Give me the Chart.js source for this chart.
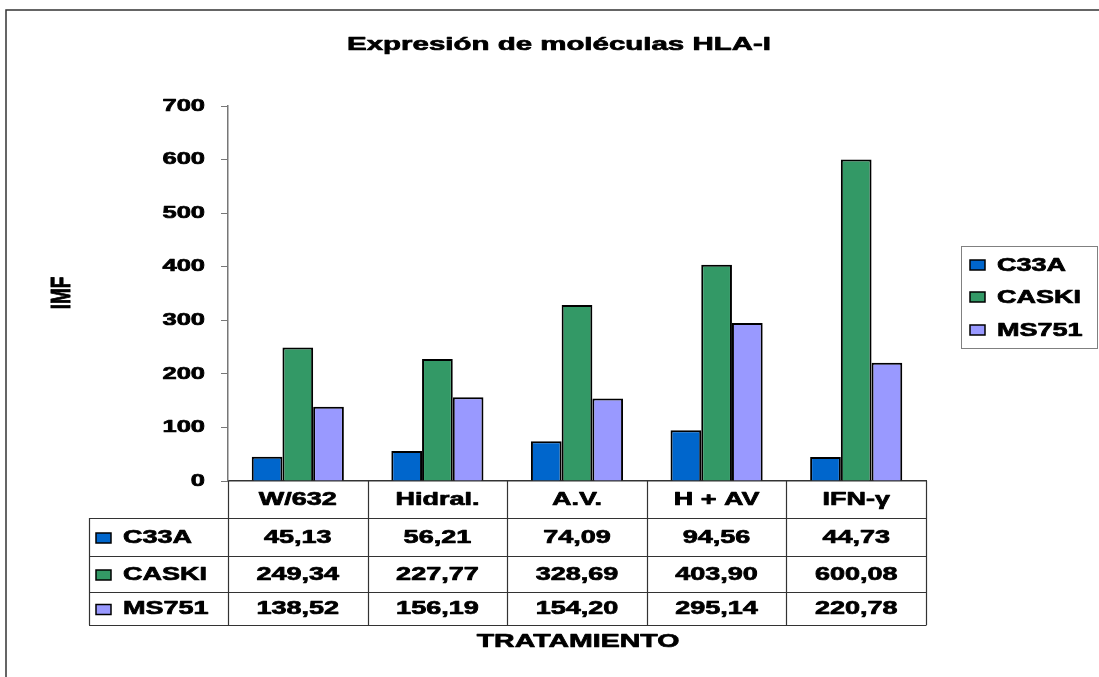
<!DOCTYPE html>
<html>
<head>
<meta charset="utf-8">
<title>Expresión de moléculas HLA-I</title>
<style>
  html, body { margin: 0; padding: 0; background: #ffffff; }
  #wrap { width: 1099px; height: 677px; position: relative; }
  canvas { display: block; }
</style>
<script src="https://cdn.jsdelivr.net/npm/chart.js@4/dist/chart.umd.min.js"></script>
</head>
<body>
<div id="wrap"><canvas id="chart" width="1099" height="677"></canvas></div>
<script>
// Treatments (x categories) and mean fluorescence intensity per cell line
const categories = ['W/632', 'Hidral.', 'A.V.', 'H + AV', 'IFN-γ'];
const seriesNames = ['C33A', 'CASKI', 'MS751'];
const c33a  = [45.13, 56.21, 74.09, 94.56, 44.73];
const caski = [249.34, 227.77, 328.69, 403.90, 600.08];
const ms751 = [138.52, 156.19, 154.20, 295.14, 220.78];
const seriesColors = ['#0066CC', '#339966', '#9999FF'];
const yMax = 700;
const yStep = 100;

const chartTitle = 'Expresión de moléculas HLA-I';
const yTitle = 'IMF';
const xTitle = 'TRATAMIENTO';

const FONT = '"Liberation Sans", Arial, Helvetica, sans-serif';
const SX = 1.5; // horizontal stretch of all lettering

function wideText(ctx, txt, x, y, size, align, sx, rot) {
  ctx.save();
  ctx.translate(x, y);
  ctx.scale(sx || SX, 1);
  if (rot) ctx.rotate(rot);
  ctx.font = 'bold ' + size + 'px ' + FONT;
  ctx.textAlign = align || 'center';
  ctx.textBaseline = 'middle';
  ctx.fillStyle = '#000000';
  ctx.strokeStyle = '#000000';
  ctx.lineWidth = 0.7;
  ctx.lineJoin = 'round';
  ctx.fillText(txt, 0, 0);
  ctx.strokeText(txt, 0, 0);
  ctx.restore();
}

function swatch(ctx, x, yc, color) {
  ctx.save();
  ctx.fillStyle = color;
  ctx.fillRect(x, yc - 5, 15, 10);
  ctx.lineWidth = 1.5;
  ctx.strokeStyle = '#000000';
  ctx.strokeRect(x, yc - 5, 15, 10);
  ctx.restore();
}

function fmt(v) { return v.toFixed(2).replace('.', ','); }

const seriesData = [c33a, caski, ms751];

// Frame, titles, y tick labels, legend and the data table under the axis
const decorations = {
  id: 'decorations',
  afterDraw(chart) {
    const ctx = chart.ctx;
    const area = chart.chartArea;
    const xs = chart.scales.x;
    const ys = chart.scales.y;

    // outer frame (left and top edges)
    ctx.save();
    ctx.strokeStyle = '#333333';
    ctx.lineWidth = 1.5;
    ctx.beginPath();
    ctx.moveTo(6, 677);
    ctx.lineTo(6, 10);
    ctx.lineTo(1099, 10);
    ctx.stroke();
    ctx.restore();

    // title
    wideText(ctx, chartTitle, 559, 45, 19, 'center', 1.55);

    // y tick labels
    ys.ticks.forEach(t => {
      wideText(ctx, String(t.value), 205, ys.getPixelForValue(t.value), 17, 'right');
    });

    // y axis title (rotated)
    wideText(ctx, yTitle, 62, 293, 19, 'center', SX, -Math.PI / 2);

    // data table
    const n = categories.length;
    const colW = (area.right - area.left) / n;
    const tableLeft = 89;
    const rowEdges = [0, 37, 75, 111, 144].map(d => area.bottom + d);
    const tableBottom = rowEdges[rowEdges.length - 1];

    ctx.save();
    ctx.strokeStyle = '#333333';
    ctx.lineWidth = 1.2;
    // vertical separators
    for (let i = 0; i <= n; i++) {
      const x = Math.round(xs.getPixelForValue(0) - colW / 2 + i * colW) + 0.5;
      ctx.beginPath();
      ctx.moveTo(x, area.bottom);
      ctx.lineTo(x, tableBottom);
      ctx.stroke();
    }
    // left edge of the series rows
    ctx.beginPath();
    ctx.moveTo(tableLeft + 0.5, rowEdges[1]);
    ctx.lineTo(tableLeft + 0.5, tableBottom);
    ctx.stroke();
    // horizontal rules
    for (let r = 1; r < rowEdges.length; r++) {
      const y = Math.round(rowEdges[r]) + 0.5;
      ctx.beginPath();
      ctx.moveTo(tableLeft, y);
      ctx.lineTo(area.right + 0.5, y);
      ctx.stroke();
    }
    ctx.restore();

    // header row: category names
    categories.forEach((c, i) => {
      wideText(ctx, c, xs.getPixelForValue(i), (rowEdges[0] + rowEdges[1]) / 2 + 1, 18, 'center');
    });

    // series rows
    seriesNames.forEach((name, s) => {
      const yc = (rowEdges[s + 1] + rowEdges[s + 2]) / 2 + 1;
      swatch(ctx, 96, yc, seriesColors[s]);
      wideText(ctx, name, 123, yc, 18, 'left');
      seriesData[s].forEach((v, i) => {
        wideText(ctx, fmt(v), xs.getPixelForValue(i), yc, 18, 'center');
      });
    });

    // x axis title
    wideText(ctx, xTitle, (area.left + area.right) / 2 + 1, 642, 19, 'center');

    // legend box
    ctx.save();
    ctx.strokeStyle = '#808080';
    ctx.lineWidth = 1;
    ctx.strokeRect(961.5, 246.5, 136, 102);
    ctx.restore();
    const legendY = [265, 297, 330];
    seriesNames.forEach((name, s) => {
      swatch(ctx, 970, legendY[s], seriesColors[s]);
      wideText(ctx, name, 997, legendY[s] + 1, 18, 'left');
    });
  }
};

new Chart(document.getElementById('chart'), {
  type: 'bar',
  data: {
    labels: categories,
    datasets: seriesNames.map((name, s) => ({
      label: name,
      data: seriesData[s],
      backgroundColor: seriesColors[s],
      borderColor: '#000000',
      borderWidth: 2,
      categoryPercentage: 0.66,
      barPercentage: 1.0
    }))
  },
  options: {
    responsive: false,
    animation: false,
    devicePixelRatio: 1,
    layout: { padding: { left: 0, right: 173, top: 106, bottom: 196 } },
    plugins: {
      legend: { display: false },
      title: { display: false },
      tooltip: { enabled: false }
    },
    scales: {
      x: {
        grid: { display: false },
        ticks: { display: false },
        border: { display: true, color: '#333333', width: 1.5 },
        afterFit(scale) { scale.height = 0; }
      },
      y: {
        min: 0,
        max: yMax,
        ticks: { display: false, stepSize: yStep },
        grid: {
          display: true,
          drawOnChartArea: false,
          drawTicks: true,
          tickLength: 7,
          color: '#777777'
        },
        border: { display: true, color: '#777777', width: 1.5 },
        afterFit(scale) { scale.width = 228; }
      }
    }
  },
  plugins: [decorations]
});
</script>
</body>
</html>
